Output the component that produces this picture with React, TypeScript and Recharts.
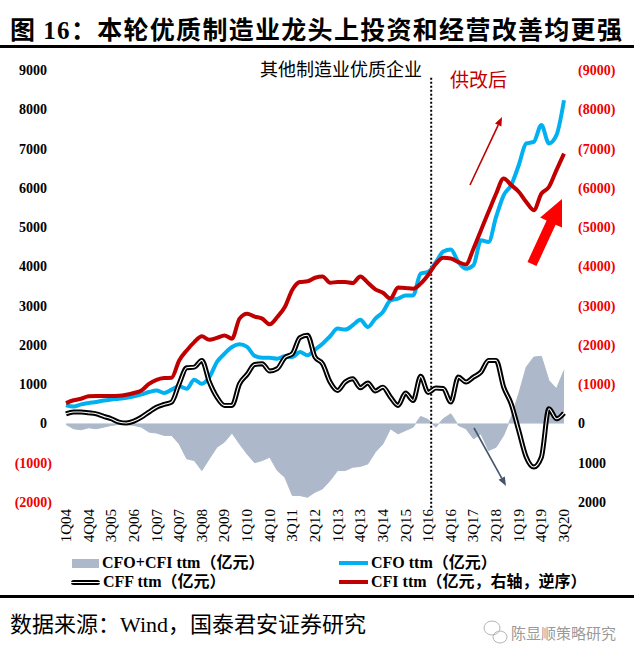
import { ComposedChart, Area, Line, XAxis, YAxis, ReferenceLine } from "recharts";

// ─── Data (亿元, ttm) ────────────────────────────────────────────────────────

const quarters = [
  "1Q04", "2Q04", "3Q04", "4Q04", "1Q05", "2Q05", "3Q05", "4Q05",
  "1Q06", "2Q06", "3Q06", "4Q06", "1Q07", "2Q07", "3Q07", "4Q07",
  "1Q08", "2Q08", "3Q08", "4Q08", "1Q09", "2Q09", "3Q09", "4Q09",
  "1Q10", "2Q10", "3Q10", "4Q10", "1Q11", "2Q11", "3Q11", "4Q11",
  "1Q12", "2Q12", "3Q12", "4Q12", "1Q13", "2Q13", "3Q13", "4Q13",
  "1Q14", "2Q14", "3Q14", "4Q14", "1Q15", "2Q15", "3Q15", "4Q15",
  "1Q16", "2Q16", "3Q16", "4Q16", "1Q17", "2Q17", "3Q17", "4Q17",
  "1Q18", "2Q18", "3Q18", "4Q18", "1Q19", "2Q19", "3Q19", "4Q19",
  "1Q20", "2Q20", "3Q20",
];

// CFO+CFI ttm (area, left axis)
const cfoCfi = [
  -25, -135, -160, -110, -135, -95, -50, -25, -25, -50, -95, -220, -245, -305, -305, -520,
  -900, -945, -1200, -900, -605, -475, -245, -520, -780, -1000, -945, -860, -1200, -1370, -1835, -1835,
  -1880, -1750, -1665, -1455, -1200, -1200, -1115, -1095, -1030, -730, -520, -135, -265, -180, -95, 180,
  100, -95, 120, 245, -50, -135, -390, -265, -690, -605, -305, 160, 755, 1435, 1690, 1710,
  1095, 885, 1350,
];

// CFO ttm (left axis)
const cfo = [
  460, 430, 485, 520, 545, 585, 610, 630, 655, 690, 740, 800, 840, 775, 860, 945,
  885, 1115, 1010, 1180, 1565, 1775, 1945, 2015, 1950, 1720, 1675, 1675, 1650, 1710, 1690, 1820,
  1735, 1880, 2030, 2220, 2415, 2390, 2500, 2640, 2455, 2670, 2840, 3135, 3180, 3260, 3260, 3815,
  3860, 4100, 4380, 4430, 4110, 3940, 4030, 4665, 4620, 5260, 5810, 6070, 6575, 7130, 7170, 7600,
  7130, 7340, 8230,
];

// CFF ttm (left axis)
const cff = [
  245, 290, 290, 270, 245, 180, 120, 35, 10, 60, 160, 290, 415, 485, 545, 1010,
  1420, 1435, 1605, 1055, 670, 460, 460, 1010, 1250, 1500, 1520, 1335, 1395, 1675, 1775, 2185,
  2245, 1690, 1520, 1055, 840, 1055, 1140, 910, 1030, 825, 925, 670, 460, 775, 585, 1200,
  790, 900, 890, 545, 1180, 1055, 1180, 1310, 1605, 1605, 925, 500, -180, -860, -1110, -860,
  375, 120, 265,
];

// CFI ttm (right axis, reversed)
const cfi = [
  -520, -590, -630, -690, -700, -700, -700, -705, -730, -775, -840, -1010, -1110, -1155, -1165, -1605,
  -1860, -2070, -2220, -2130, -2180, -2240, -2160, -2670, -2795, -2720, -2670, -2525, -2710, -2965, -3405, -3600,
  -3620, -3710, -3745, -3585, -3600, -3600, -3575, -3745, -3585, -3415, -3330, -3180, -3460, -3450, -3430, -3560,
  -3780, -4060, -4220, -4200, -4110, -4050, -4450, -4920, -5390, -5850, -6240, -6070, -5900, -5640, -5430, -5850,
  -6020, -6450, -6870,
];

const leftTicks = [-2000, -1000, 0, 1000, 2000, 3000, 4000, 5000, 6000, 7000, 8000, 9000];
const rightTicks = [-9000, -8000, -7000, -6000, -5000, -4000, -3000, -2000, -1000, 0, 1000, 2000];
const xTicks = quarters.map((_, i) => i).filter((i) => i % 3 === 0);
const reformQuarter = 48.4; // 供改后 divider, just after 1Q16

const rows = quarters.map((q, i) => ({
  idx: i,
  q,
  cfoCfi: cfoCfi[i],
  cfo: cfo[i],
  cff: cff[i],
  cfi: cfi[i],
}));

// ─── Styles ──────────────────────────────────────────────────────────────────

const SERIF = '"Liberation Serif", "Noto Sans CJK SC", serif';
const CJK = '"Noto Sans CJK SC", sans-serif';
const RED = "#f00000";
const BLUE = "#00b0f0";
const DARK_RED = "#c00000";
const AREA = "#adb9ca";

// ─── Ticks ───────────────────────────────────────────────────────────────────

function LeftTick({ y, payload }: any) {
  const v = payload.value as number;
  const neg = v < 0;
  return (
    <text
      x={52}
      y={y}
      dy={5}
      dx={neg ? 0 : -5}
      textAnchor="end"
      fontFamily={SERIF}
      fontWeight={700}
      fontSize={14}
      fill={neg ? RED : "#000"}
    >
      {neg ? `(${-v})` : v}
    </text>
  );
}

function RightTick({ y, payload }: any) {
  const v = payload.value as number;
  const neg = v < 0;
  return (
    <text
      x={578}
      y={y}
      dy={5}
      textAnchor="start"
      fontFamily={SERIF}
      fontWeight={700}
      fontSize={14}
      fill={neg ? RED : "#000"}
    >
      {neg ? `(${-v})` : v}
    </text>
  );
}

function XTick({ x, payload }: any) {
  const top = 509;
  return (
    <text
      x={x}
      y={top}
      dy={5}
      transform={`rotate(-90 ${x} ${top})`}
      textAnchor="end"
      fontFamily={SERIF}
      fontSize={15}
      fill="#000"
    >
      {quarters[payload.value]}
    </text>
  );
}

// ─── Legend ──────────────────────────────────────────────────────────────────

function LegendItem({
  left,
  top,
  swatch,
  label,
}: {
  left: number;
  top: number;
  swatch: React.ReactNode;
  label: string;
}) {
  return (
    <div
      style={{
        position: "absolute",
        left,
        top: top - 10,
        height: 20,
        display: "flex",
        alignItems: "center",
        whiteSpace: "nowrap",
      }}
    >
      {swatch}
      <span
        style={{
          marginLeft: 3,
          fontFamily: SERIF,
          fontWeight: 700,
          fontSize: 16,
          lineHeight: "20px",
        }}
      >
        {label}
      </span>
    </div>
  );
}

// ─── Component ───────────────────────────────────────────────────────────────

export default function App() {
  return (
    <div
      style={{
        position: "relative",
        width: 634,
        height: 661,
        background: "#fff",
        overflow: "hidden",
      }}
    >
      <style>{"body{margin:0}"}</style>

      {/* ── Title ── */}
      <div
        style={{
          position: "absolute",
          left: 10,
          top: 12,
          fontFamily: CJK,
          fontWeight: 700,
          fontSize: 25,
          letterSpacing: 1.3,
          lineHeight: "32px",
          whiteSpace: "nowrap",
          color: "#000",
        }}
      >
        图 <span style={{ fontFamily: SERIF }}>16</span>：本轮优质制造业龙头上投资和经营改善均更强
      </div>
      <div style={{ position: "absolute", left: 0, top: 45, width: 634, height: 3, background: "#000" }} />

      {/* ── Chart ── */}
      <div style={{ position: "absolute", left: 0, top: 0 }}>
        <ComposedChart
          width={634}
          height={545}
          data={rows}
          margin={{ top: 70, right: 10, bottom: 0, left: 6 }}
        >
          <XAxis
            dataKey="idx"
            type="number"
            domain={[0, 66]}
            ticks={xTicks}
            interval={0}
            height={43}
            axisLine={false}
            tickLine={false}
            tick={<XTick />}
          />
          <YAxis
            yAxisId="left"
            domain={[-2000, 9000]}
            ticks={leftTicks}
            interval={0}
            width={60}
            axisLine={false}
            tickLine={false}
            tick={<LeftTick />}
            allowDataOverflow
          />
          <YAxis
            yAxisId="right"
            orientation="right"
            domain={[-9000, 2000]}
            ticks={rightTicks}
            reversed
            interval={0}
            width={60}
            axisLine={false}
            tickLine={false}
            tick={<RightTick />}
            allowDataOverflow
          />
          <Area
            yAxisId="left"
            dataKey="cfoCfi"
            type="linear"
            baseValue={0}
            fill={AREA}
            fillOpacity={1}
            stroke={AREA}
            strokeWidth={1}
            isAnimationActive={false}
          />
          <ReferenceLine yAxisId="left" y={0} stroke="#d3d8e0" strokeWidth={1} />
          <ReferenceLine
            yAxisId="left"
            segment={[
              { x: reformQuarter, y: 8800 },
              { x: reformQuarter, y: -2200 },
            ]}
            ifOverflow="visible"
            stroke="#000"
            strokeWidth={2}
            strokeDasharray="2 2"
          />
          <Line
            yAxisId="left"
            dataKey="cfo"
            type="monotone"
            stroke={BLUE}
            strokeWidth={4}
            dot={false}
            isAnimationActive={false}
          />
          <Line
            yAxisId="left"
            dataKey="cff"
            type="monotone"
            stroke="#000"
            strokeWidth={5}
            dot={false}
            isAnimationActive={false}
          />
          <Line
            yAxisId="left"
            dataKey="cff"
            type="monotone"
            stroke="#fff"
            strokeWidth={1.1}
            dot={false}
            isAnimationActive={false}
          />
          <Line
            yAxisId="right"
            dataKey="cfi"
            type="monotone"
            stroke={DARK_RED}
            strokeWidth={4}
            dot={false}
            isAnimationActive={false}
          />
        </ComposedChart>
      </div>

      {/* ── Annotations ── */}
      <div
        style={{
          position: "absolute",
          left: 260,
          top: 57,
          fontFamily: CJK,
          fontSize: 18,
          lineHeight: "22px",
          whiteSpace: "nowrap",
          color: "#000",
        }}
      >
        其他制造业优质企业
      </div>
      <div
        style={{
          position: "absolute",
          left: 450,
          top: 68,
          fontFamily: CJK,
          fontSize: 19,
          lineHeight: "22px",
          whiteSpace: "nowrap",
          color: DARK_RED,
        }}
      >
        供改后
      </div>
      <svg
        width={634}
        height={661}
        style={{ position: "absolute", left: 0, top: 0, pointerEvents: "none" }}
      >
        {/* thin dark-red arrow */}
        <line x1={470} y1={185} x2={498.2} y2={125.1} stroke={DARK_RED} strokeWidth={1.6} />
        <polygon points="502,117 501.4,126.6 495,123.6" fill={DARK_RED} />
        {/* big red arrow */}
        <polygon
          points="536.5,266.1 555.6,224.7 562,227.6 562,199 540.2,217.6 546.6,220.5 527.5,261.9"
          fill="#ff0000"
        />
        {/* slate arrow */}
        <line x1={474} y1={428} x2={501.7} y2={478.1} stroke="#44546a" strokeWidth={1.6} />
        <polygon points="506,486 498.6,479.8 504.8,476.4" fill="#44546a" />
        {/* watermark icon */}
        <g stroke="#b5b5b5" strokeWidth={1} fill="none">
          <ellipse cx={492} cy={628} rx={8} ry={7} />
          <ellipse cx={500} cy={637} rx={7} ry={6} />
        </g>
      </svg>

      {/* ── Legend ── */}
      <LegendItem
        left={72}
        top={563}
        swatch={<div style={{ width: 27, height: 9, background: AREA }} />}
        label="CFO+CFI ttm（亿元）"
      />
      <LegendItem
        left={339}
        top={563}
        swatch={<div style={{ width: 29, height: 4, background: BLUE }} />}
        label="CFO ttm（亿元）"
      />
      <LegendItem
        left={71}
        top={582}
        swatch={
          <div
            style={{
              width: 29,
              height: 5,
              background: "#000",
              borderRadius: 3,
              display: "flex",
              alignItems: "center",
            }}
          >
            <div style={{ width: "100%", height: 1, background: "#fff" }} />
          </div>
        }
        label="CFF ttm（亿元）"
      />
      <LegendItem
        left={339}
        top={582}
        swatch={<div style={{ width: 29, height: 4, background: DARK_RED }} />}
        label="CFI ttm（亿元，右轴，逆序）"
      />
      <div style={{ position: "absolute", left: 0, top: 595, width: 634, height: 3, background: "#000" }} />

      {/* ── Footer ── */}
      <div
        style={{
          position: "absolute",
          left: 10,
          top: 608,
          fontFamily: CJK,
          fontSize: 22,
          lineHeight: "28px",
          whiteSpace: "nowrap",
          color: "#000",
        }}
      >
        数据来源：<span style={{ fontFamily: SERIF }}>Wind</span>，国泰君安证券研究
      </div>
      <div
        style={{
          position: "absolute",
          left: 511,
          top: 623,
          fontFamily: CJK,
          fontSize: 15,
          lineHeight: "20px",
          whiteSpace: "nowrap",
          color: "#9a9a9a",
        }}
      >
        陈显顺策略研究
      </div>
    </div>
  );
}
